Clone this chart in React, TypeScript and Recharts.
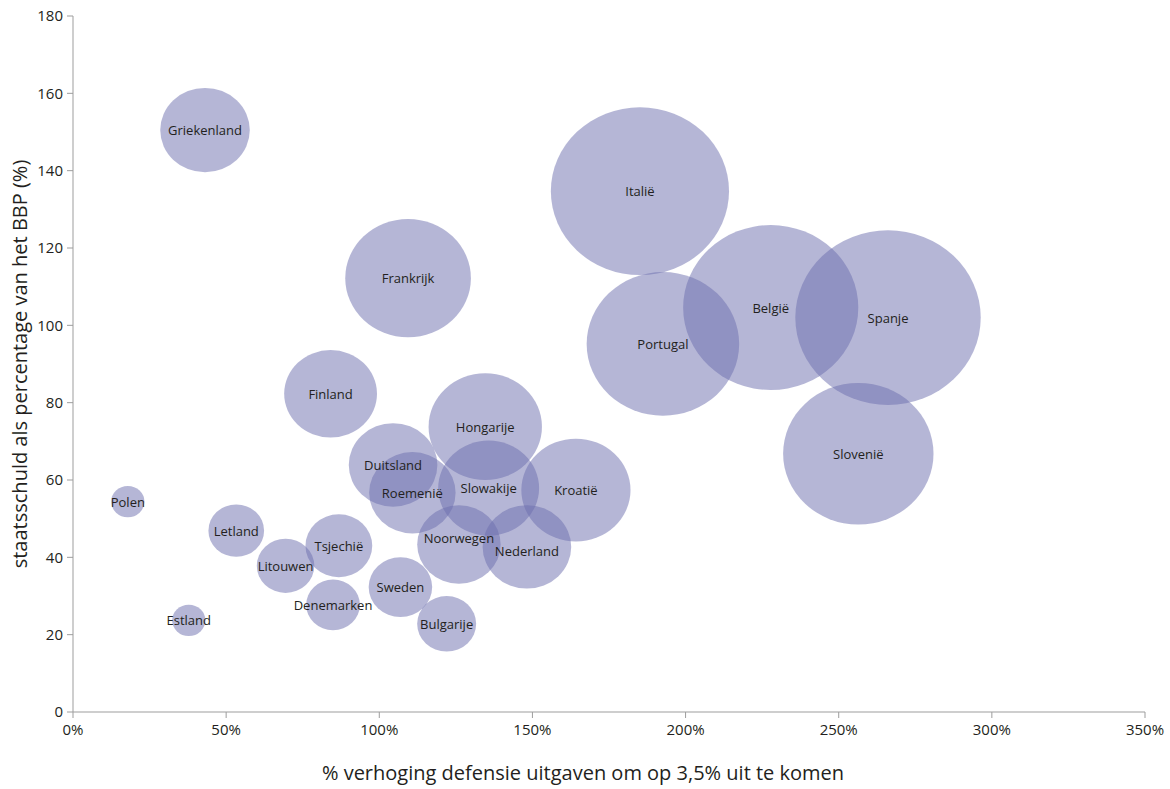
import { ScatterChart, Scatter, XAxis, YAxis, ZAxis, LabelList } from "recharts";

// landen en waarden
const landen = [
  "Griekenland", "Italië", "Frankrijk", "België", "Spanje", "Portugal", "Slovenië",
  "Finland", "Hongarije", "Kroatië", "Slowakije", "Nederland", "Noorwegen", "Bulgarije",
  "Sweden", "Duitsland", "Roemenië", "Polen", "Letland", "Litouwen", "Tsjechië",
  "Denemarken", "Estland",
];
// % verhoging defensie uitgaven
const verhoging = [
  43.1, 185.1, 109.4, 227.8, 266.1, 192.6, 256.4,
  84.1, 134.6, 164.2, 135.7, 148.2, 126.0, 122.0,
  106.9, 104.5, 110.8, 17.9, 53.3, 69.4, 86.8,
  84.9, 37.8,
];
// staatsschuld (% BBP)
const schuld = [
  150.5, 134.7, 112.2, 104.6, 102.0, 95.2, 66.8,
  82.3, 73.8, 57.4, 57.9, 42.7, 43.3, 22.8,
  32.3, 63.9, 56.7, 54.4, 46.9, 37.8, 43.0,
  27.7, 23.7,
];
// bubbelgrootte
const omvang = [
  18.9, 74.8, 37.2, 72.3, 81.0, 54.8, 53.3,
  20.3, 30.3, 28.1, 24.0, 18.5, 16.4, 8.2,
  9.5, 18.5, 17.6, 2.6, 7.3, 7.8, 10.5,
  6.8, 2.6,
];

const xTicks = [0, 50, 100, 150, 200, 250, 300, 350];
const yTicks = [0, 20, 40, 60, 80, 100, 120, 140, 160, 180];

const data = landen.map((naam, i) => ({
  naam,
  x: verhoging[i],
  y: schuld[i],
  z: omvang[i],
}));

// labels die in het origineel iets verschoven staan (px)
const labelShift: Record<string, number> = { Noorwegen: -7, Nederland: 4 };

const axisColor = "#9d9d9d";
const textColor = "#231f20";

function Bubble(props: any) {
  const { cx, cy, width, size } = props;
  const r = width ? width / 2 : Math.sqrt((size || 0) / Math.PI);
  return (
    <ellipse cx={cx} cy={cy} rx={r * 1.03} ry={r * 0.97} fill="#6b6dae" fillOpacity={0.5} />
  );
}

function BubbleLabel(props: any) {
  const { x, y, width, height, value } = props;
  const cx = x + width / 2;
  const cy = y + height / 2 + (labelShift[value] || 0);
  return (
    <text x={cx} y={cy} textAnchor="middle" dominantBaseline="central" fontSize={13} fill={textColor}>
      {value}
    </text>
  );
}

export default function App() {
  return (
    <div style={{ position: "absolute", left: 0, top: 0 }}>
      <ScatterChart
        width={1170}
        height={789}
        margin={{ top: 16, right: 25, bottom: 47, left: 0 }}
        style={{ fontFamily: "'Open Sans', sans-serif" }}
      >
        <XAxis
          type="number"
          dataKey="x"
          domain={[0, 350]}
          ticks={xTicks}
          tickFormatter={(v) => `${v}%`}
          stroke={axisColor}
          tickSize={6}
          tickMargin={6}
          height={30}
          tick={{ fontSize: 15, fill: textColor }}
          label={{
            content: (p: any) => {
              const vb = p.viewBox;
              return (
                <text
                  x={vb.x + vb.width / 2 - 26}
                  y={vb.y + 60}
                  textAnchor="middle"
                  dominantBaseline="central"
                  fontSize={20}
                  fill={textColor}
                >
                  % verhoging defensie uitgaven om op 3,5% uit te komen
                </text>
              );
            },
          }}
        />
        <YAxis
          type="number"
          dataKey="y"
          domain={[0, 180]}
          ticks={yTicks}
          stroke={axisColor}
          tickSize={6}
          tickMargin={4}
          width={73}
          tick={{ fontSize: 15, fill: textColor }}
          label={{
            content: (p: any) => {
              const vb = p.viewBox;
              const x = vb.x + 19;
              const y = vb.y + vb.height / 2;
              return (
                <text
                  x={x}
                  y={y}
                  transform={`rotate(-90 ${x} ${y})`}
                  textAnchor="middle"
                  dominantBaseline="central"
                  fontSize={20}
                  fill={textColor}
                >
                  staatsschuld als percentage van het BBP (%)
                </text>
              );
            },
          }}
        />
        <ZAxis type="number" dataKey="z" domain={[0, 100]} range={[0, 31416]} />
        <Scatter data={data} shape={<Bubble />} isAnimationActive={false}>
          <LabelList dataKey="naam" content={<BubbleLabel />} />
        </Scatter>
      </ScatterChart>
    </div>
  );
}
